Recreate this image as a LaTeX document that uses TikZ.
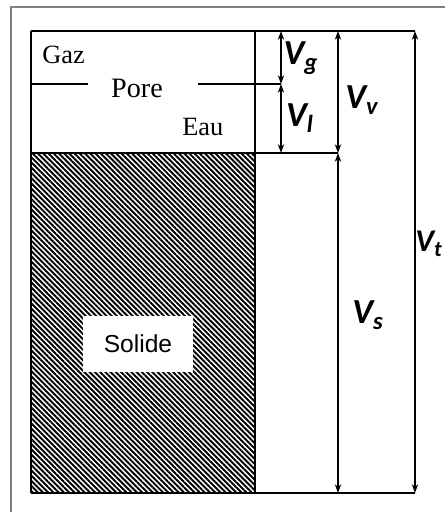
\documentclass[tikz,border=0pt]{standalone}
\usepackage{fontspec}
\setmainfont{Liberation Serif}
\newfontfamily\dimfont{Carlito}
\newfontfamily\solfont{Liberation Sans}
\usetikzlibrary{arrows.meta,patterns.meta}
\tikzset{
  phase/.style={font=\fontsize{15}{17}\selectfont, inner sep=0pt},
  vol/.style={font=\dimfont\bfseries\itshape\fontsize{20}{22}\selectfont, inner sep=0pt},
  dimline/.style={<->, line width=0.8pt},
  edge/.style={line width=1.4pt}
}
\begin{document}
\begin{tikzpicture}[x=0.02cm, y=-0.02cm, >={Stealth[length=5pt,width=3.6pt]}]
\useasboundingbox (0,0) rectangle (445,512);
\draw[gray, line width=1.2pt] (11,7) rectangle (470,540);
% corners and levels
\coordinate (tl) at (31,31);
\coordinate (tr) at (415,31);
\coordinate (bl) at (31,493);
\coordinate (br) at (415,493);
\coordinate (sl) at (31,153);
\coordinate (sm) at (255,153);
\coordinate (sr) at (338,153);
\coordinate (pl) at (31,84);
\coordinate (pr) at (281,84);
\coordinate (gt) at (281,31);
\coordinate (gb) at (281,153);
\coordinate (vt) at (338,31);
\coordinate (vb) at (338,493);
% solid part
\fill[pattern={Lines[angle=-45,distance=2.1pt,line width=1.1pt]}] (sl) rectangle (255,493);
\node[fill=white, minimum width=110*0.02cm, minimum height=56*0.02cm, font=\solfont\fontsize{14}{16}\selectfont] (solid) at (138,344) {Solide};
% outlines
\draw[edge] (tl) -- (tr);
\draw[edge] (bl) -- (br);
\draw[edge] (tl) -- (bl);
\draw[edge] (255,31) -- (255,493);
\draw[edge] (sl) -- (sr);
% pore text and split line
\node[phase, anchor=base, font=\fontsize{16}{18}\selectfont] (pore) at (137,97) {Pore};
\node[phase, anchor=base west] (gaz) at (42,63) {Gaz};
\node[phase, anchor=base west] (eau) at (182,135) {Eau};
\draw[edge] (pl) -- (88,84);
\draw[edge] (198,84) -- (pr);
% dimensions
\draw[dimline] (gt) -- (pr);
\draw[dimline] (pr) -- (gb);
\draw[dimline] (vt) -- (sr);
\draw[dimline] (sr) -- (vb);
\draw[dimline] (tr) -- (br);
\node[vol] (vg) at (301,58) {V\textsubscript{g}};
\node[vol] (vl) at (300,118) {V\textsubscript{l}};
\node[vol] (vv) at (362,100) {V\textsubscript{v}};
\node[vol] (vs) at (368,315) {V\textsubscript{s}};
\node[vol, anchor=east, font=\dimfont\bfseries\itshape\fontsize{18}{20}\selectfont] (vtot) at (443,244) {V\textsubscript{t}};
\end{tikzpicture}
\end{document}
